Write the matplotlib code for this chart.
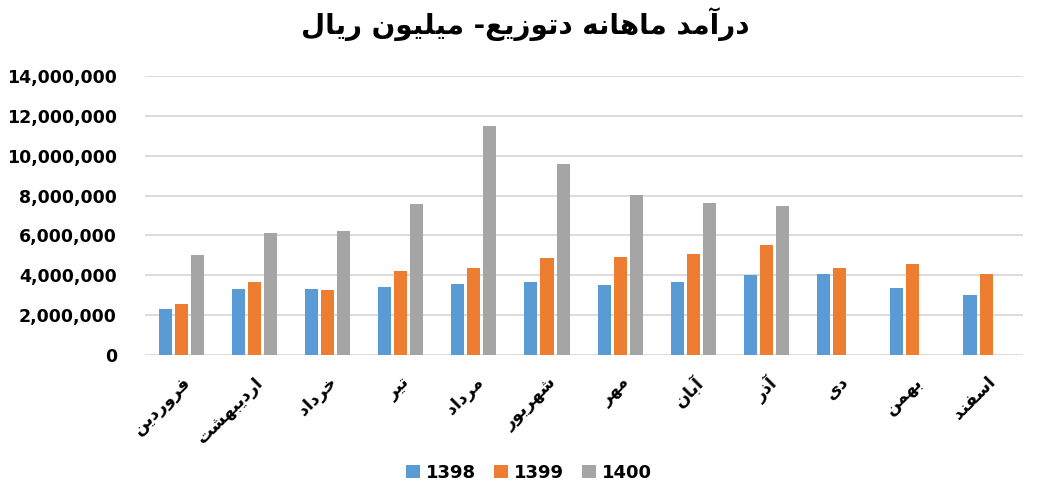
import numpy as np
import matplotlib.pyplot as plt
from matplotlib.ticker import FuncFormatter
import matplotlib.transforms as mtransforms

title = "درآمد ماهانه دتوزیع- میلیون ریال"
months = ["فروردین", "اردیبهشت", "خرداد", "تیر", "مرداد", "شهریور",
          "مهر", "آبان", "آذر", "دی", "بهمن", "اسفند"]
series_names = ["1398", "1399", "1400"]
v1398 = [2.31e6, 3.29e6, 3.32e6, 3.39e6, 3.54e6, 3.64e6,
         3.51e6, 3.64e6, 4.00e6, 4.05e6, 3.34e6, 3.01e6]
v1399 = [2.56e6, 3.66e6, 3.26e6, 4.23e6, 4.38e6, 4.85e6,
         4.90e6, 5.05e6, 5.50e6, 4.38e6, 4.56e6, 4.05e6]
v1400 = [5.00e6, 6.13e6, 6.22e6, 7.58e6, 11.51e6, 9.56e6,
         8.02e6, 7.65e6, 7.48e6, np.nan, np.nan, np.nan]
colors = ["#5B9BD5", "#ED7D31", "#A5A5A5"]

# simple arabic shaping (presentation forms), then visual order
FORMS = {
    "ا": (0xFE8D, 0xFE8E), "آ": (0xFE81, 0xFE82), "د": (0xFEA9, 0xFEAA),
    "ذ": (0xFEAB, 0xFEAC), "ر": (0xFEAD, 0xFEAE), "ز": (0xFEAF, 0xFEB0),
    "و": (0xFEED, 0xFEEE),
    "ب": (0xFE8F, 0xFE90, 0xFE91, 0xFE92), "ت": (0xFE95, 0xFE96, 0xFE97, 0xFE98),
    "خ": (0xFEA5, 0xFEA6, 0xFEA7, 0xFEA8), "س": (0xFEB1, 0xFEB2, 0xFEB3, 0xFEB4),
    "ش": (0xFEB5, 0xFEB6, 0xFEB7, 0xFEB8), "ع": (0xFEC9, 0xFECA, 0xFECB, 0xFECC),
    "ف": (0xFED1, 0xFED2, 0xFED3, 0xFED4), "ل": (0xFEDD, 0xFEDE, 0xFEDF, 0xFEE0),
    "م": (0xFEE1, 0xFEE2, 0xFEE3, 0xFEE4), "ن": (0xFEE5, 0xFEE6, 0xFEE7, 0xFEE8),
    "ه": (0xFEE9, 0xFEEA, 0xFEEB, 0xFEEC), "ی": (0xFBFC, 0xFBFD, 0xFBFE, 0xFBFF),
}


def shape(s):
    out = []
    for i, c in enumerate(s):
        if c not in FORMS:
            out.append(c)
            continue
        prev = s[i - 1] if i > 0 else ""
        nxt = s[i + 1] if i + 1 < len(s) else ""
        join_prev = prev in FORMS and len(FORMS[prev]) == 4
        join_next = len(FORMS[c]) == 4 and nxt in FORMS
        f = FORMS[c]
        if join_prev and join_next:
            g = f[3]
        elif join_prev:
            g = f[1]
        elif join_next:
            g = f[2]
        else:
            g = f[0]
        out.append(chr(g))
    return "".join(out)[::-1]


plt.rcParams['font.family'] = ['DejaVu Sans']

fig = plt.figure(figsize=(10.63, 4.84), dpi=100)
ax = fig.add_axes([0.136, 0.2665, 0.826, 0.5765])

x = np.arange(len(months))
w = 0.178
step = 0.219
for k, (vals, c, name) in enumerate(zip([v1398, v1399, v1400], colors, series_names)):
    ax.bar(x + (k - 1) * step, vals, width=w, color=c, label=name, zorder=3)

ax.set_ylim(0, 14e6)
ax.set_xlim(-0.5, len(months) - 0.5)
ax.set_yticks(np.arange(0, 14e6 + 1, 2e6))
ax.yaxis.set_major_formatter(FuncFormatter(lambda v, p: f"{v:,.0f}"))
ax.grid(axis='y', color='#D9D9D9', linewidth=1.3, zorder=0)
for sp in ax.spines.values():
    sp.set_visible(False)
ax.tick_params(length=0)
ax.tick_params(axis='y', labelsize=12.5, pad=20)
for t in ax.get_yticklabels():
    t.set_fontweight('bold')

ax.set_xticks(x)
ax.set_xticklabels([shape(m) for m in months], rotation=45, ha='right', va='top',
                   rotation_mode='anchor', fontsize=12.5, fontweight='bold')
offset = mtransforms.ScaledTranslation(0.0, -0.13, fig.dpi_scale_trans)
for t in ax.get_xticklabels():
    t.set_transform(t.get_transform() + offset)

fig.suptitle(shape(title), fontsize=20, fontweight='bold', x=0.494, y=0.985)

leg = ax.legend(loc='center', bbox_to_anchor=(0.438, -0.423), ncol=3, frameon=False,
                handlelength=0.75, handleheight=0.75, handletextpad=0.35, columnspacing=1.0,
                prop={'weight': 'bold', 'size': 13})

fig.savefig("out.png", dpi=100)
